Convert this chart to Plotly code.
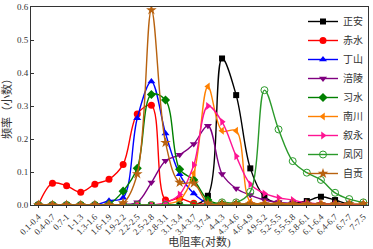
import plotly.graph_objects as go

categories = ["0.1-0.4", "0.4-0.7", "0.7-1", "1-1.3", "1.3-1.6", "1.6-1.9", "1.9-2.2",
              "2.2-2.5", "2.5-2.8", "2.8-3.1", "3.1-3.4", "3.4-3.7", "3.7-4", "4-4.3",
              "4.3-4.6", "4.6-4.9", "4.9-5.2", "5.2-5.5", "5.5-5.8", "5.8-6.1", "6.1-6.4",
              "6.4-6.7", "6.7-7", "7-7.5"]

zhengan = [0, 0, 0, 0, 0, 0, 0, 0, 0, 0, 0, 0, 0.028, 0.444, 0.333, 0.111, 0.025, 0.005,
           0.005, 0.012, 0.025, 0.015, 0.002, 0]
chishui = [0, 0.066, 0.058, 0.039, 0.063, 0.078, 0.123, 0.276, 0.302, 0.015, 0.02, 0.005,
           0.003, 0.002, 0.002, 0.002, 0.001, 0.001, 0, 0, 0, 0, 0, 0]
dingshan = [0, 0, 0, 0, 0, 0.013, 0.022, 0.263, 0.374, 0.217, 0.093, 0.035, 0.005, 0, 0,
            0, 0, 0, 0, 0, 0, 0, 0, 0]
fuling = [0, 0, 0, 0, 0, 0, 0.002, 0.008, 0.068, 0.134, 0.152, 0.185, 0.24, 0.094, 0.05,
          0.03, 0.015, 0.008, 0.005, 0.005, 0.003, 0.002, 0.002, 0]
xishui = [0, 0, 0, 0, 0, 0.003, 0.042, 0.111, 0.335, 0.318, 0.108, 0.076, 0.015, 0.003,
          0.002, 0.002, 0, 0, 0, 0, 0, 0, 0, 0]
nanchuan = [0, 0, 0, 0, 0, 0, 0, 0, 0, 0.003, 0.015, 0.096, 0.359, 0.225, 0.225, 0.01,
            0.005, 0.005, 0.003, 0.002, 0.002, 0.002, 0.002, 0]
xuyong = [0, 0, 0, 0, 0, 0, 0, 0, 0, 0.007, 0.032, 0.121, 0.30, 0.252, 0.148, 0.063,
          0.035, 0.022, 0.015, 0.006, 0.004, 0.003, 0.002, 0]
fenggang = [0, 0, 0, 0, 0, 0, 0, 0, 0, 0, 0, 0, 0, 0.008, 0.008, 0.04, 0.348, 0.229,
            0.133, 0.098, 0.076, 0.037, 0.018, 0.008]
zigong = [0, 0, 0, 0, 0, 0, 0.006, 0.094, 0.591, 0.189, 0.068, 0.066, 0.005, 0.003, 0.003,
          0.003, 0.003, 0.003, 0.003, 0.003, 0.003, 0.003, 0.003, 0.003]

y_ticks = [0.0, 0.1, 0.2, 0.3, 0.4, 0.5, 0.6]

series = [
    ("正安", zhengan, "#000000", "square", 6),
    ("赤水", chishui, "#FF0000", "circle", 7),
    ("丁山", dingshan, "#0000FF", "triangle-up", 7),
    ("涪陵", fuling, "#800080", "triangle-down", 7),
    ("习水", xishui, "#008000", "diamond", 7),
    ("南川", nanchuan, "#FF8000", "triangle-left", 7),
    ("叙永", xuyong, "#FF1493", "triangle-right", 7),
    ("凤冈", fenggang, "#2A9A2A", "circle-open", 7),
    ("自贡", zigong, "#B8620F", "star", 8),
]

FONT = "Liberation Serif, Noto Sans CJK SC"

fig = go.Figure()
for name, vals, color, sym, size in series:
    fig.add_trace(go.Scatter(
        x=categories, y=vals, name=name, mode="lines+markers",
        line=dict(color=color, width=1.4, shape="spline", smoothing=1),
        marker=dict(symbol=sym, size=size, color=color,
                    line=dict(color=color, width=1 if sym.endswith("open") else 0)),
    ))

fig.update_layout(
    width=373, height=249,
    margin=dict(l=31, r=5, t=7, b=44),
    paper_bgcolor="white", plot_bgcolor="white",
    font=dict(family=FONT, size=9, color="#333333"),
    showlegend=True,
    legend=dict(x=1, y=1, xanchor="right", yanchor="top",
                bgcolor="rgba(255,255,255,0)", borderwidth=0,
                font=dict(family=FONT, size=10, color="#333333"),
                itemwidth=30, tracegroupgap=0),
    xaxis=dict(type="category", range=[-0.52, 23.33], tickangle=-45,
               automargin=False,
               tickfont=dict(family=FONT, size=9, color="#333333"),
               showline=True, linecolor="#333333", linewidth=1, mirror=True,
               ticks="outside", ticklen=2, tickcolor="#333333", showgrid=False,
               zeroline=False,
               title=dict(text="电阻率(对数)",
                          font=dict(family=FONT, size=11, color="#333333"))),
    yaxis=dict(range=[0, 0.6], tickvals=y_ticks, tickformat=".1f",
               automargin=False,
               tickfont=dict(family=FONT, size=9, color="#333333"),
               showline=True, linecolor="#333333", linewidth=1, mirror=True,
               ticks="inside", ticklen=3, tickcolor="#333333", showgrid=False,
               zeroline=False,
               title=dict(text="频率（小数）",
                          font=dict(family=FONT, size=11, color="#333333"))),
)

fig.write_html("out.html", config={"displayModeBar": False},
               post_script="document.body.style.margin='0';")
